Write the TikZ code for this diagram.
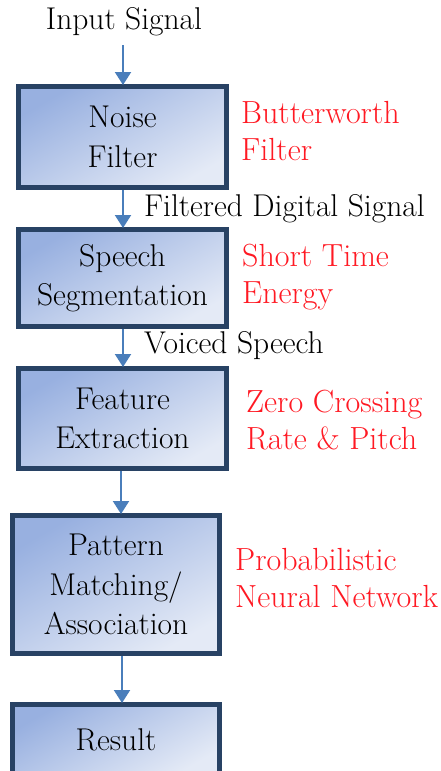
\documentclass[tikz,border=0pt]{standalone}
\usepackage{fontspec}
\usetikzlibrary{arrows.meta}
\definecolor{boxedge}{RGB}{40,66,100}
\definecolor{boxdark}{RGB}{152,176,224}
\definecolor{boxlight}{RGB}{228,234,246}
\definecolor{flow}{RGB}{74,126,187}
\definecolor{note}{RGB}{255,25,35}
\tikzset{
  stage/.style={draw=boxedge, line width=5pt, rectangle,
    top color=boxdark, bottom color=boxlight, shading angle=30,
    align=center, inner sep=0pt, minimum width=208pt,
    font=\fontsize{31.5}{39.5}\selectfont},
  flowarrow/.style={draw=flow, line width=2pt,
    -{Triangle[width=16pt,length=13pt]}, shorten >=-1pt},
  signal/.style={inner sep=0pt, font=\fontsize{31.5}{38}\selectfont},
  method/.style={inner sep=0pt, align=left, anchor=west, text=note,
    font=\fontsize{32}{37.5}\selectfont}
}
\begin{document}
\begin{tikzpicture}[x=1pt,y=-1pt]
  \useasboundingbox (0,0) rectangle (440,771);
  \clip (0,0) rectangle (440,771);
  \fill[white] (0,0) rectangle (440,771);

  % processing stages
  \node[stage, minimum height=101pt] (noise) at (122.5,137) {Noise\\Filter};
  \node[stage, minimum height=97pt]  (seg)   at (122.5,278) {Speech\\Segmentation};
  \node[stage, minimum height=100pt] (feat)  at (122.5,418.5) {Feature\\Extraction};
  \node[stage, minimum height=138pt, minimum width=207pt] (match) at (116,584.5)
        {Pattern\\Matching/\\Association};
  \node[stage, minimum height=71pt, minimum width=207pt] (result) at (116,740) {Result};

  % signal labels
  \node[signal] (input) at (124,22) {Input Signal};
  \node[signal, anchor=west] (filtered) at (144,209) {Filtered Digital Signal};
  \node[signal, anchor=west] (voiced) at (144,346) {Voiced Speech};

  % methods used at each stage
  \node[method] (butter) at (241,131) {Butterworth\\Filter};
  \node[method] (ste)    at (242,277) {Short Time\\Energy};
  \node[method] (zcr)    at (246,420) {Zero Crossing\\Rate \& Pitch};
  \node[method] (pnn)    at (235,578) {Probabilistic\\Neural Network};

  % flow between stages
  \coordinate (inbot) at (123,45);
  \draw[flowarrow] (inbot) -- (inbot |- noise.north);
  \draw[flowarrow] ([xshift=0.5pt]noise.south) -- ([xshift=0.5pt]seg.north);
  \draw[flowarrow] ([xshift=0.5pt]seg.south) -- ([xshift=0.5pt]feat.north);
  \draw[flowarrow] ([xshift=-1.5pt]feat.south) -- ([xshift=-1.5pt]feat.south |- match.north);
  \draw[flowarrow] ([xshift=6pt]match.south) -- ([xshift=6pt]result.north);
\end{tikzpicture}
\end{document}
